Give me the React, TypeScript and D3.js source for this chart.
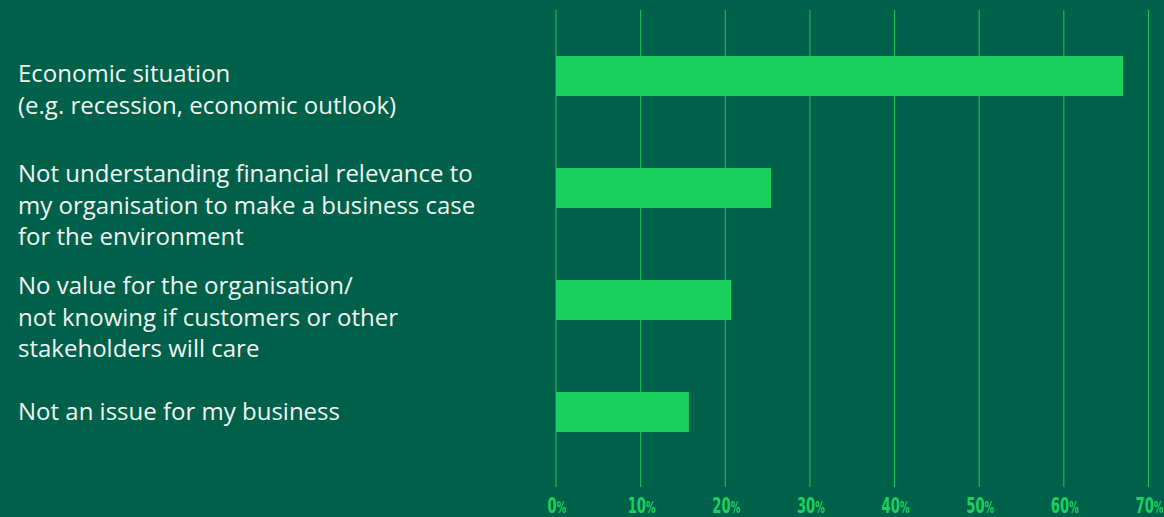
import React from "react";
import * as d3 from "d3";

const categories: string[][] = [
  ["Economic situation", "(e.g. recession, economic outlook)"],
  ["Not understanding financial relevance to", "my organisation to make a business case", "for the environment"],
  ["No value for the organisation/", "not knowing if customers or other", "stakeholders will care"],
  ["Not an issue for my business"],
];
const values: number[] = [67, 25.4, 20.7, 15.7];
const tickValues: number[] = [0, 10, 20, 30, 40, 50, 60, 70];

const W = 1164;
const H = 517;
const BG = "#00614A";
const GREEN = "#1BD15D";

export default function App() {
  const x = d3.scaleLinear().domain([0, 70]).range([556, 1148.5]);
  const y = d3
    .scaleBand<number>()
    .domain(d3.range(categories.length))
    .range([20, 468])
    .paddingInner(72 / 112)
    .paddingOuter(36 / 112);
  const lineH = 31.7;

  return (
    <svg
      width={W}
      height={H}
      style={{ position: "absolute", left: 0, top: 0, display: "block" }}
    >
      <rect x={0} y={0} width={W} height={H} fill={BG} />
      {tickValues.map((t) => (
        <line
          key={"g" + t}
          x1={x(t)}
          x2={x(t)}
          y1={10}
          y2={487}
          stroke={GREEN}
          strokeWidth={1}
          opacity={0.9}
        />
      ))}
      {values.map((v, i) => (
        <rect
          key={"b" + i}
          x={x(0)}
          y={y(i)}
          width={x(v) - x(0)}
          height={y.bandwidth()}
          fill={GREEN}
        />
      ))}
      {categories.map((lines, i) => {
        const c = (y(i) as number) + y.bandwidth() / 2;
        const first = c + (lines.length === 3 ? -6 : lines.length === 2 ? 6 : 8);
        return (
          <text
            key={"l" + i}
            x={18}
            y={first}
            fill="#F2F4F2"
            fontFamily="'Open Sans', sans-serif"
            fontSize={24}
          >
            {lines.map((ln, j) => (
              <tspan key={j} x={18} y={first + j * lineH}>
                {ln}
              </tspan>
            ))}
          </text>
        );
      })}
      {tickValues.map((t) => (
        <text
          key={"t" + t}
          transform={`translate(${x(t) + 1},513) scale(0.6,1)`}
          textAnchor="middle"
          fill={GREEN}
          fontFamily="'DejaVu Sans', sans-serif"
          fontWeight="bold"
          fontSize={22}
        >
          {t}
          <tspan fontSize={16}>%</tspan>
        </text>
      ))}
    </svg>
  );
}
